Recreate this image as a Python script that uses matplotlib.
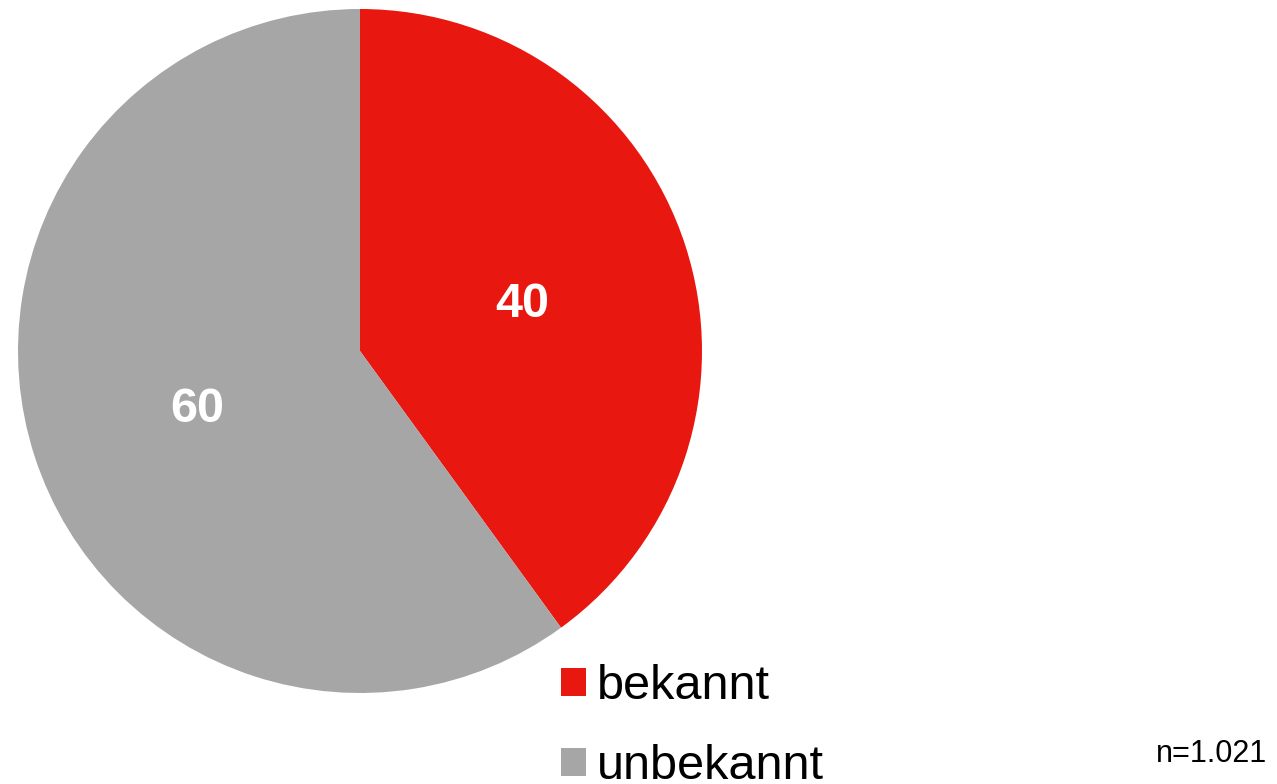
import matplotlib
matplotlib.use('Agg')
import matplotlib.pyplot as plt
from matplotlib.transforms import offset_copy

plt.rcParams['font.family'] = ['Liberation Sans', 'DejaVu Sans']

labels = ['bekannt', 'unbekannt']
values = [40, 60]
colors = ['#E81710', '#A6A6A6']
note = 'n=1.021'

W, H = 1277, 784
fig = plt.figure(figsize=(W / 100, H / 100), dpi=100)

# pie axes: circle centre (360, 351), radius 342 px
ax = fig.add_axes([18 / W, (H - 693) / H, 684 / W, 684 / H])
wedges, texts = ax.pie(values, colors=colors, startangle=90, counterclock=False,
                       labels=[str(v) for v in values], labeldistance=0.5,
                       textprops=dict(color='white', fontsize=35, fontweight='bold',
                                      ha='center', va='center'),
                       wedgeprops=dict(linewidth=0))
for t in texts:
    t.set_transform(offset_copy(t.get_transform(), fig=fig, x=0, y=-6, units='dots'))
ax.set_aspect('equal')
ax.set_xlim(-1, 1)
ax.set_ylim(-1, 1)
ax.axis('off')

fig.legend(wedges, labels, loc='upper left', bbox_to_anchor=(561 / W, (H - 664) / H),
           frameon=False, fontsize=35, borderpad=0, borderaxespad=0,
           handlelength=0.51, handleheight=0.51, handletextpad=0.22,
           labelspacing=0.72)

fig.text(1267 / W, (H - 762) / H, note, fontsize=22, ha='right', va='baseline')

fig.savefig('out.png', dpi=100)
